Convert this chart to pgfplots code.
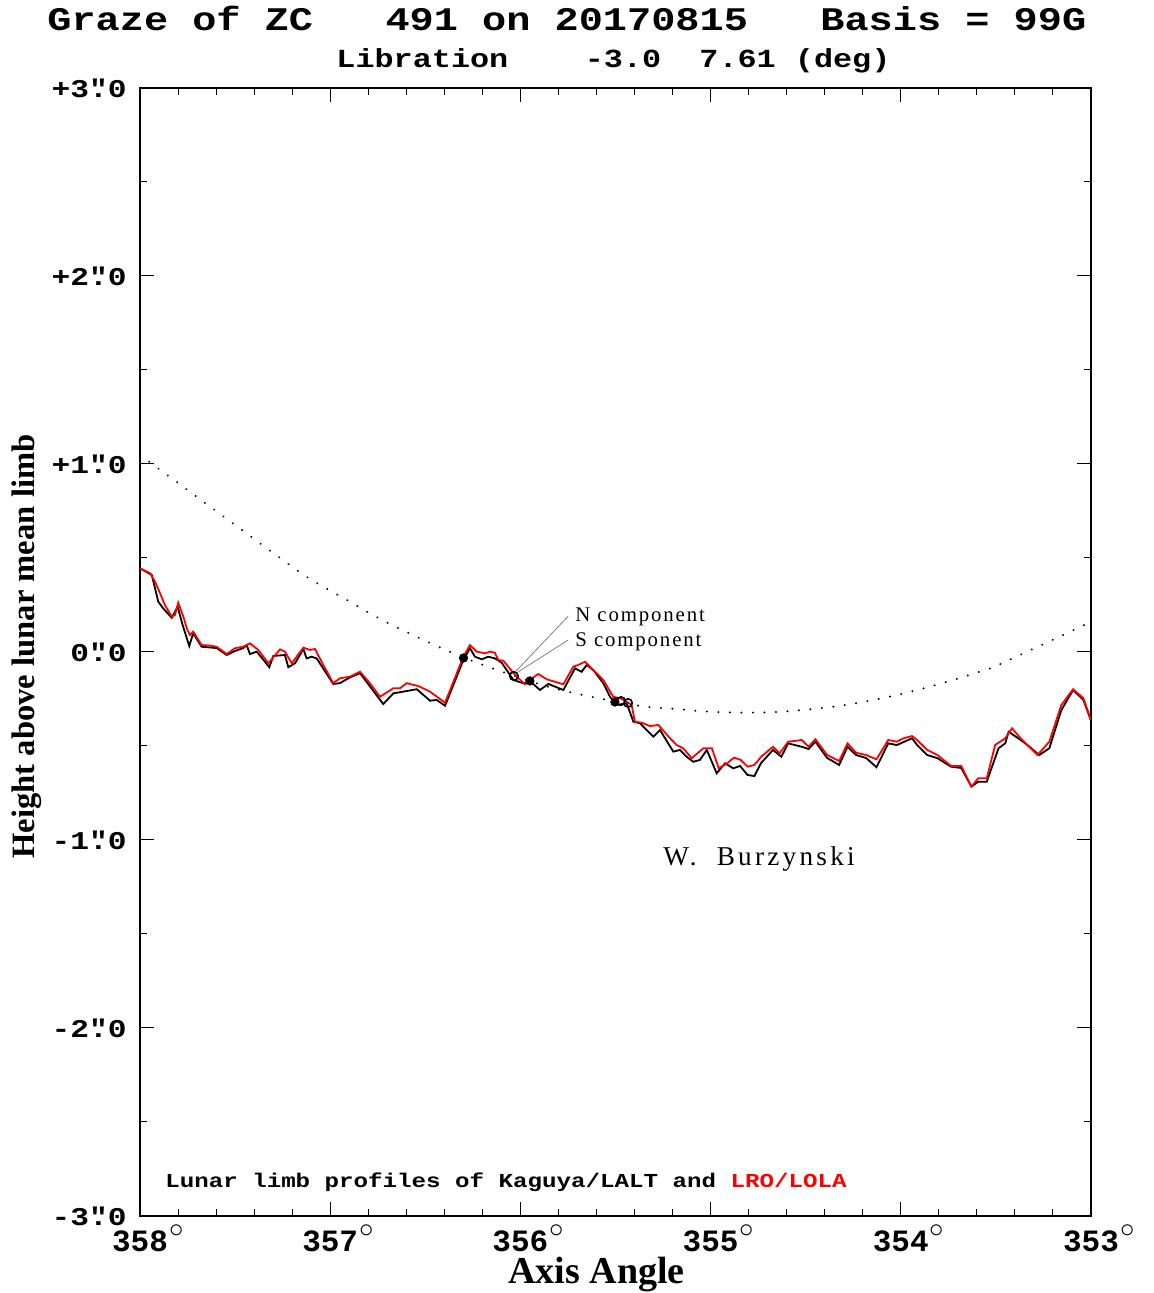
\documentclass[border=0pt]{standalone}
\usepackage{fontspec}
\usepackage{pgfplots}
\pgfplotsset{compat=1.18}
\newfontface\monoB[FakeStretch=1.22,Ligatures=TeXOff]{Liberation Mono Bold}
\newfontface\monoX[Ligatures=TeXOff]{Liberation Mono Bold}
\newfontface\serifB{Liberation Serif Bold}
\newfontface\mincho[LetterSpace=9]{Liberation Serif}
\newfontface\minchoW[LetterSpace=12]{Liberation Serif}
\newcommand\dg{\rlap{\kern0.6pt\raisebox{7.2pt}{\fontsize{13.5}{13.5}\selectfont$\circ$}}}
\newcommand\xl[1]{\raisebox{0pt}[10.2pt][0pt]{#1\dg}}
\newcommand\asec{\rlap{"}}
\begin{document}
\begin{tikzpicture}
\path[use as bounding box] (0,0) rectangle (576.5pt,646.5pt);
\begin{axis}[
  at={(70pt,38.5pt)}, anchor=south west,
  width=475.5pt, height=564pt, scale only axis,
  x dir=reverse,
  xmin=353, xmax=358, ymin=-3, ymax=3,
  xtick={353,354,355,356,357,358},
  xticklabels={\xl{353},\xl{354},\xl{355},\xl{356},\xl{357},\xl{358}},
  minor x tick num=4,
  ytick={-3,-2,-1,0,1,2,3},
  yticklabels={{-3\asec.0},{-2\asec.0},{-1\asec.0},{0\asec.0},{+1\asec.0},{+2\asec.0},{+3\asec.0}},
  minor y tick num=1,
  tick align=inside,
  major tick length=7pt, minor tick length=3.5pt,
  every tick/.style={black, line width=0.5pt},
  axis line style={black, line width=0.9pt},
  xticklabel style={font=\monoX\fontsize{15.5}{16}\selectfont, inner sep=0pt, anchor=north, yshift=-7.5pt},
  yticklabel style={font=\monoB\fontsize{12.8}{14}\selectfont, inner sep=0pt, anchor=east, xshift=-6.5pt},
  clip=true,
]
% dotted reference curve
\addplot[black, line width=1.1pt, dash pattern=on 0.01pt off 5.75pt, line cap=round, smooth, tension=0.5] coordinates {
(358.000,1.048) (357.273,0.507) (357.097,0.383) (356.913,0.277) (356.738,0.176)
(356.554,0.085) (356.379,0.005) (356.256,-0.046) (356.133,-0.092) (355.897,-0.172)
(355.713,-0.220) (355.371,-0.287) (355.178,-0.303) (355.047,-0.315) (354.863,-0.322)
(354.628,-0.318) (354.325,-0.287) (354.075,-0.241) (353.834,-0.181) (353.584,-0.105)
(353.468,-0.060) (353.000,0.160)};
% Kaguya/LALT (black)
\addplot[black, line width=0.9pt] coordinates {
(358.000,0.445) (357.938,0.410) (357.904,0.268) (357.878,0.232) (357.833,0.182)
(357.802,0.241) (357.776,0.144) (357.741,0.032) (357.720,0.099) (357.676,0.028)
(357.597,0.021) (357.544,-0.016) (357.501,0.005) (357.457,0.021) (357.439,0.037)
(357.422,-0.011) (357.386,0.002) (357.320,-0.081) (357.299,-0.021) (357.238,-0.016)
(357.220,-0.081) (357.185,-0.060) (357.141,0.016) (357.124,-0.034) (357.097,-0.025)
(357.071,-0.034) (356.984,-0.170) (356.949,-0.166) (356.896,-0.135) (356.843,-0.113)
(356.721,-0.277) (356.668,-0.220) (356.616,-0.211) (356.545,-0.198) (356.475,-0.259)
(356.440,-0.255) (356.396,-0.286) (356.300,-0.043) (356.265,0.020) (356.239,-0.025)
(356.203,-0.039) (356.169,-0.025) (356.134,-0.034) (356.098,-0.057) (356.037,-0.149)
(355.985,-0.166) (355.941,-0.163) (355.897,-0.202) (355.853,-0.170) (355.774,-0.202)
(355.713,-0.087) (355.678,-0.105) (355.651,-0.069) (355.617,-0.096) (355.564,-0.166)
(355.529,-0.238) (355.494,-0.282) (355.441,-0.273) (355.406,-0.371) (355.371,-0.379)
(355.301,-0.451) (355.266,-0.415) (355.196,-0.530) (355.161,-0.521) (355.126,-0.557)
(355.091,-0.584) (355.056,-0.574) (355.020,-0.521) (354.968,-0.645) (354.924,-0.592)
(354.881,-0.619) (354.845,-0.606) (354.806,-0.654) (354.770,-0.660) (354.734,-0.590)
(354.672,-0.521) (354.628,-0.557) (354.592,-0.486) (354.521,-0.504) (354.485,-0.516)
(354.449,-0.477) (354.387,-0.564) (354.324,-0.601) (354.280,-0.504) (354.235,-0.548)
(354.182,-0.564) (354.128,-0.613) (354.066,-0.486) (354.021,-0.495) (353.941,-0.459)
(353.914,-0.495) (353.861,-0.548) (353.807,-0.565) (353.736,-0.610) (353.682,-0.617)
(353.629,-0.716) (353.593,-0.690) (353.548,-0.690) (353.486,-0.512) (353.451,-0.486)
(353.433,-0.424) (353.370,-0.468) (353.334,-0.495) (353.272,-0.548) (353.219,-0.512)
(353.156,-0.309) (353.094,-0.202) (353.040,-0.255) (353.000,-0.365)};
% LRO/LOLA (red)
\addplot[red, line width=0.9pt] coordinates {
(358.000,0.445) (357.947,0.419) (357.921,0.374) (357.895,0.314) (357.869,0.250)
(357.833,0.188) (357.816,0.197) (357.799,0.262) (357.772,0.188) (357.754,0.126)
(357.737,0.090) (357.720,0.108) (357.676,0.037) (357.632,0.034) (357.597,0.028)
(357.544,-0.011) (357.501,0.020) (357.457,0.028) (357.422,0.046) (357.378,0.011)
(357.325,-0.060) (357.264,0.014) (357.238,0.002) (357.202,-0.060) (357.141,0.023)
(357.106,0.011) (357.080,0.016) (357.036,-0.069) (356.984,-0.166) (356.949,-0.140)
(356.896,-0.131) (356.843,-0.105) (356.791,-0.166) (356.738,-0.238) (356.668,-0.193)
(356.633,-0.193) (356.598,-0.166) (356.537,-0.181) (356.475,-0.211) (356.396,-0.270)
(356.300,-0.025) (356.265,0.037) (356.230,0.002) (356.186,-0.007) (356.160,0.002)
(356.134,-0.004) (356.116,-0.043) (356.090,-0.046) (356.028,-0.122) (355.976,-0.172)
(355.950,-0.149) (355.906,-0.117) (355.862,-0.145) (355.774,-0.172) (355.722,-0.078)
(355.696,-0.069) (355.660,-0.052) (355.617,-0.096) (355.564,-0.149) (355.512,-0.238)
(355.476,-0.246) (355.441,-0.264) (355.415,-0.282) (355.398,-0.371) (355.362,-0.376)
(355.319,-0.394) (355.275,-0.388) (355.213,-0.459) (355.178,-0.495) (355.144,-0.512)
(355.099,-0.565) (355.038,-0.512) (354.993,-0.512) (354.957,-0.619) (354.913,-0.592)
(354.877,-0.562) (354.842,-0.574) (354.806,-0.610) (354.770,-0.601) (354.734,-0.557)
(354.672,-0.504) (354.637,-0.539) (354.592,-0.477) (354.556,-0.473) (354.521,-0.468)
(354.485,-0.504) (354.449,-0.464) (354.387,-0.548) (354.324,-0.580) (354.280,-0.486)
(354.235,-0.536) (354.182,-0.548) (354.128,-0.571) (354.066,-0.468) (354.021,-0.477)
(353.985,-0.459) (353.941,-0.447) (353.914,-0.468) (353.861,-0.521) (353.807,-0.548)
(353.736,-0.606) (353.682,-0.606) (353.629,-0.716) (353.593,-0.672) (353.548,-0.672)
(353.504,-0.495) (353.451,-0.459) (353.415,-0.406) (353.370,-0.459) (353.334,-0.495)
(353.281,-0.548) (353.219,-0.477) (353.156,-0.282) (353.094,-0.198) (353.040,-0.246)
(353.000,-0.362)};
% leader lines
\addplot[gray, line width=0.4pt] coordinates {(356.034,-0.113) (355.748,0.191)};
\addplot[gray, line width=0.4pt] coordinates {(356.011,-0.105) (355.748,0.064)};
% event markers
\addplot[only marks, mark=*, mark size=2.1pt, black] coordinates {
(356.299,-0.032) (355.950,-0.154) (355.503,-0.266)};
\addplot[only marks, mark=o, mark size=2.1pt, black, mark options={fill=white, line width=0.8pt}] coordinates {
(356.034,-0.128) (355.471,-0.261) (355.434,-0.271)};
% texts
\node[anchor=base west, inner sep=0pt, font=\mincho\fontsize{10.4}{12}\selectfont] at (axis cs:355.713,0.160) {N component};
\node[anchor=base west, inner sep=0pt, font=\mincho\fontsize{10.4}{12}\selectfont] at (axis cs:355.713,0.027) {S component};
\node[anchor=base west, inner sep=0pt, font=\minchoW\fontsize{13.6}{15}\selectfont] at (axis cs:355.250,-1.138) {W.~~Burzynski};
\node[anchor=base west, inner sep=0pt, font=\monoB\fontsize{9.9}{11}\selectfont] at (axis cs:357.869,-2.851) {Lunar limb profiles of Kaguya/LALT and \textcolor{red}{LRO/LOLA}};
\end{axis}
\node[anchor=base west, inner sep=0pt, font=\monoB\fontsize{16.5}{18}\selectfont] at (23.5pt,631pt) {Graze of ZC~~~491 on 20170815~~~Basis = 99G};
\node[anchor=base west, inner sep=0pt, font=\monoB\fontsize{13.05}{15}\selectfont] at (168pt,612.5pt) {Libration~~~~-3.0~~7.61~(deg)};
\node[anchor=base, inner sep=0pt, font=\serifB\fontsize{19}{21}\selectfont] at (298.25pt,4.8pt) {\raisebox{0pt}[12.6pt][\depth]{Axis Angle}};
\node[anchor=base, inner sep=0pt, rotate=90, font=\serifB\fontsize{16.3}{18}\selectfont] at (17pt,323.25pt) {Height above lunar mean limb};
\end{tikzpicture}
\end{document}
